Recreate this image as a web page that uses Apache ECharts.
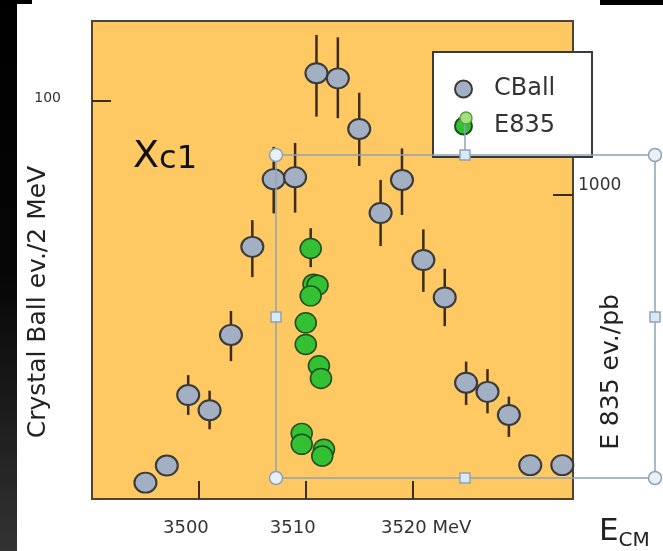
<!DOCTYPE html>
<html>
<head>
<meta charset="utf-8">
<script src="https://cdn.jsdelivr.net/npm/echarts@6/dist/echarts.min.js"></script>
<style>
  html, body { margin: 0; padding: 0; background: #ffffff; }
  #chart { width: 663px; height: 551px; }
</style>
</head>
<body>
<div id="chart"></div>
<script>
// Crystal Ball counts per 2 MeV bin around the chi_c1 resonance
const cballEnergy = [3495, 3497, 3499, 3501, 3503, 3505, 3507, 3509, 3511, 3513,
                     3515, 3517, 3519, 3521, 3523, 3525, 3527, 3529, 3531, 3534];
const cballCounts = [4.1, 8.4, 26.1, 22.3, 41.2, 63.3, 80.3, 80.8, 106.9, 105.6,
                     92.9, 71.8, 80.1, 60.0, 50.6, 29.2, 26.9, 21.1, 8.5, 8.5];
const cballLow    = [null, null, 21.1, 17.5, 34.6, 55.7, 71.7, 71.9, 96.0, 95.6,
                     83.6, 63.5, 71.3, 52.0, 43.4, 23.6, 21.5, 15.6, null, null];
const cballHigh   = [null, null, 31.1, 27.2, 47.2, 70.0, 88.4, 89.4, 116.5, 115.9,
                     102.0, 80.1, 88.0, 67.7, 57.8, 34.5, 32.6, 25.7, null, null];

// E835 scan (events per pb)
const e835Energy = [3510.46, 3510.72, 3511.1, 3510.46, 3510.0, 3510.0, 3511.23, 3511.42,
                    3509.62, 3509.62, 3511.70, 3511.54];
const e835Rate   = [822.8, 705.6, 702.3, 667.2, 578.6, 507.7, 437.5, 396.1,
                    215.6, 179.5, 163.1, 141.1];
const e835Low    = [761.4, null, null, null, null, null, null, null, null, null, null, null];
const e835High   = [889.4, null, null, null, null, null, null, null, null, null, null, null];

// Tick marks and labels
const energyTicks = [3500, 3510, 3520];
const energyTickText = { 3500: '3500', 3510: '3510', 3520: '3520 MeV' };
const countTicks = [100];
const rateTicks = [1000];

const FONT = 'DejaVu Sans';
const chart = echarts.init(document.getElementById('chart'), null, { renderer: 'canvas' });

function errorBarItem(params, api) {
  const lo = api.value(1), hi = api.value(2);
  if (lo == null || hi == null || isNaN(lo) || isNaN(hi)) return null;
  const x = api.value(0);
  const p1 = api.coord([x, hi]);
  const p2 = api.coord([x, lo]);
  return {
    type: 'line',
    shape: { x1: p1[0], y1: p1[1], x2: p2[0], y2: p2[1] },
    style: { stroke: '#3d2c12', lineWidth: 2.5 }
  };
}

const cballPoints = cballEnergy.map((e, i) => [e, cballCounts[i]]);
const cballBars = cballEnergy.map((e, i) => [e, cballLow[i], cballHigh[i]]);
const e835Points = e835Energy.map((e, i) => [e, e835Rate[i]]);
const e835Bars = e835Energy.map((e, i) => [e, e835Low[i], e835High[i]]);

const selStroke = '#8ea2b7';
const handleCircle = (cx, cy) => ({
  type: 'circle', z: 12, shape: { cx: cx, cy: cy, r: 6.5 },
  style: { fill: '#e8f0f8', stroke: selStroke, lineWidth: 1.5 }
});
const handleSquare = (cx, cy) => ({
  type: 'rect', z: 12, shape: { x: cx - 5, y: cy - 5, width: 10, height: 10 },
  style: { fill: '#dbe8f5', stroke: selStroke, lineWidth: 1.5 }
});

const option = {
  backgroundColor: '#ffffff',
  animation: false,
  grid: {
    left: 92, right: 90, top: 21, bottom: 52,
    show: true, backgroundColor: '#fec862',
    borderColor: '#4d4338', borderWidth: 2
  },
  legend: {
    data: ['CBall', 'E835'],
    orient: 'vertical',
    left: 449, top: 71,
    itemWidth: 21, itemHeight: 17, itemGap: 11,
    selectedMode: false,
    textStyle: { fontFamily: FONT, fontSize: 24, color: '#333333', lineHeight: 26, padding: [0, 0, 0, 15] }
  },
  xAxis: {
    type: 'value', min: 3490, max: 3535, interval: 10,
    axisLine: { show: false },
    splitLine: { show: false },
    axisTick: {
      show: true, inside: true, length: 18, customValues: energyTicks,
      lineStyle: { color: '#3b2e1a', width: 2 }
    },
    axisLabel: {
      customValues: energyTicks, margin: 20,
      fontFamily: FONT, fontSize: 18, color: '#333333',
      formatter: v => (v === 3520 ? '{b|' : '{a|') + energyTickText[v] + '}',
      rich: {
        a: { fontFamily: FONT, fontSize: 18, color: '#333333', padding: [0, 26, 0, 0] },
        b: { fontFamily: FONT, fontSize: 18, color: '#333333', padding: [0, 0, 0, 27] }
      }
    }
  },
  yAxis: [
    {
      type: 'value', min: 0, max: 120, position: 'left',
      axisLine: { show: false }, splitLine: { show: false },
      axisTick: {
        show: true, inside: true, length: 19, customValues: countTicks,
        lineStyle: { color: '#3b2e1a', width: 2 }
      },
      axisLabel: {
        customValues: countTicks, margin: 31,
        formatter: v => '{t|' + v + '}',
        rich: { t: { fontFamily: FONT, fontSize: 14, color: '#333333', padding: [0, 0, 5, 0] } }
      }
    },
    {
      type: 'value', min: 0, max: 1570, position: 'right',
      axisLine: { show: false }, splitLine: { show: false },
      axisTick: {
        show: true, inside: true, length: 20, customValues: rateTicks,
        lineStyle: { color: '#3b2e1a', width: 2 }
      },
      axisLabel: {
        customValues: rateTicks, margin: 5,
        formatter: v => '{t|' + v + '}',
        rich: { t: { fontFamily: FONT, fontSize: 17, color: '#333333', padding: [0, 0, 18, 0] } }
      }
    }
  ],
  series: [
    {
      name: 'CBall error', type: 'custom', xAxisIndex: 0, yAxisIndex: 0, z: 2,
      renderItem: errorBarItem, data: cballBars, silent: true
    },
    {
      name: 'E835 error', type: 'custom', xAxisIndex: 0, yAxisIndex: 1, z: 2,
      renderItem: errorBarItem, data: e835Bars, silent: true
    },
    {
      name: 'CBall', type: 'scatter', xAxisIndex: 0, yAxisIndex: 0, z: 3,
      symbol: 'circle', symbolSize: [22, 20],
      itemStyle: { color: '#a3b0c3', borderColor: '#3a3a3a', borderWidth: 2, opacity: 1 },
      data: cballPoints
    },
    {
      name: 'E835', type: 'scatter', xAxisIndex: 0, yAxisIndex: 1, z: 3,
      symbol: 'circle', symbolSize: [21, 20],
      itemStyle: { color: '#33c033', borderColor: '#1d4d1d', borderWidth: 1.5, opacity: 1 },
      data: e835Points
    }
  ],
  graphic: [
    // dark frame strips
    {
      type: 'rect', z: 1, shape: { x: 0, y: 0, width: 17, height: 551 },
      style: {
        fill: new echarts.graphic.LinearGradient(0, 0, 0, 1, [
          { offset: 0, color: '#000000' },
          { offset: 0.5, color: '#060606' },
          { offset: 1, color: '#333333' }
        ])
      }
    },
    { type: 'rect', z: 1, shape: { x: 0, y: 0, width: 32, height: 4 }, style: { fill: '#000000' } },
    { type: 'rect', z: 1, shape: { x: 600, y: 0, width: 63, height: 5 }, style: { fill: '#000000' } },
    // axis titles
    {
      type: 'text', z: 5, x: 38, y: 302, rotation: Math.PI / 2,
      style: {
        text: 'Crystal Ball ev./2 MeV', fontFamily: FONT, fontSize: 25,
        fill: '#222222', align: 'center', verticalAlign: 'middle'
      }
    },
    {
      type: 'text', z: 5, x: 611, y: 372, rotation: Math.PI / 2,
      style: {
        text: 'E 835 ev./pb', fontFamily: FONT, fontSize: 25,
        fill: '#222222', align: 'center', verticalAlign: 'middle'
      }
    },
    {
      type: 'text', z: 5, x: 599, y: 547,
      style: {
        text: '{e|E}{s|CM}', fontFamily: FONT, align: 'left', verticalAlign: 'bottom',
        rich: {
          e: { fontFamily: FONT, fontSize: 31, fill: '#222222', verticalAlign: 'bottom' },
          s: { fontFamily: FONT, fontSize: 20, fill: '#222222', verticalAlign: 'bottom', padding: [0, 0, -4, 0] }
        }
      }
    },
    {
      type: 'text', z: 5, x: 133, y: 176,
      style: {
        text: '{x|X}{c|c1}', fontFamily: FONT, align: 'left', verticalAlign: 'bottom',
        rich: {
          x: { fontFamily: FONT, fontSize: 38, fill: '#111111', verticalAlign: 'bottom' },
          c: { fontFamily: FONT, fontSize: 32, fill: '#111111', verticalAlign: 'bottom' }
        }
      }
    },
    // legend frame
    {
      type: 'rect', z: 3, shape: { x: 433, y: 52, width: 159, height: 105 },
      style: { fill: '#ffffff', stroke: '#3a3a3a', lineWidth: 2 }
    },
    // selection outline around the E835 overlay
    {
      type: 'rect', z: 11, shape: { x: 276, y: 155, width: 379, height: 323 },
      style: { fill: 'none', stroke: selStroke, lineWidth: 1.5 }
    },
    {
      type: 'line', z: 11, shape: { x1: 465, y1: 123, x2: 465, y2: 150 },
      style: { stroke: selStroke, lineWidth: 1.5 }
    },
    {
      type: 'circle', z: 12, shape: { cx: 466, cy: 118, r: 6 },
      style: { fill: '#a5e07f', stroke: '#5c9d3c', lineWidth: 1.5 }
    },
    handleCircle(276, 155), handleCircle(655, 155), handleCircle(276, 478), handleCircle(655, 478),
    handleSquare(465, 155), handleSquare(465, 478), handleSquare(276, 317), handleSquare(655, 317)
  ]
};

chart.setOption(option);
</script>
</body>
</html>
